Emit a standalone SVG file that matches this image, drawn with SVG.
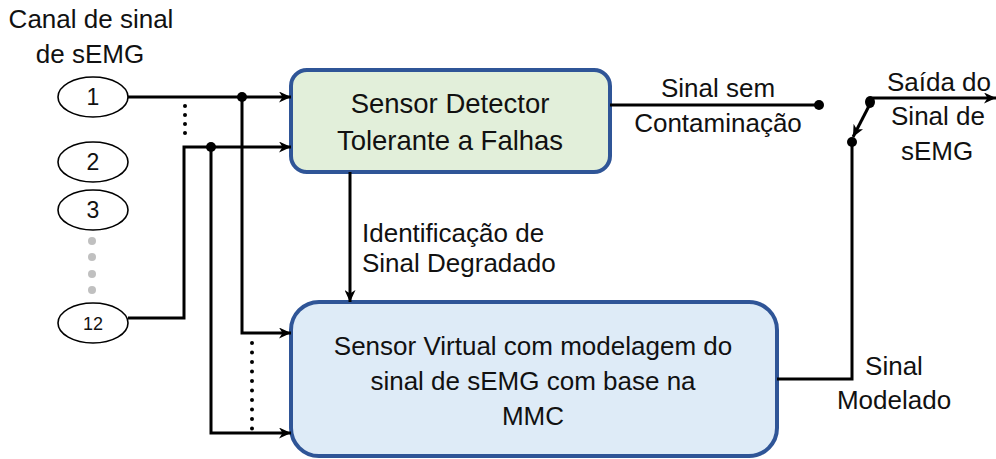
<svg xmlns="http://www.w3.org/2000/svg" width="996" height="459" viewBox="0 0 996 459">
  <style>
    text { font-family: "Liberation Sans", Arial, sans-serif; fill: #111; }
    .lbl { font-size: 26px; text-anchor: middle; }
    .lbl-l { font-size: 26px; }
    .num { font-size: 23px; text-anchor: middle; }
    .wire { fill: none; stroke: #000; stroke-width: 3; }
    .arr { marker-end: url(#head); }
    .dot { fill: #000; }
    .chan { fill: #fff; stroke: #000; stroke-width: 1.6; }
    .box { stroke: #2F5597; stroke-width: 4; }
  </style>
  <defs>
    <marker id="head" markerUnits="userSpaceOnUse" markerWidth="13" markerHeight="11" refX="12" refY="5.5" orient="auto">
      <path d="M0,0 L12,5.5 L0,11 L3.5,5.5 z" fill="#000"/>
    </marker>
  </defs>

  <!-- input caption -->
  <text class="lbl" x="91" y="28">Canal de sinal</text>
  <text class="lbl" x="90" y="63">de sEMG</text>

  <!-- channel nodes -->
  <g id="ch1"><ellipse class="chan" cx="93" cy="97" rx="35" ry="20"/><text class="num" x="93" y="105">1</text></g>
  <g id="ch2"><ellipse class="chan" cx="93" cy="162" rx="35" ry="20"/><text class="num" x="93" y="170">2</text></g>
  <g id="ch3"><ellipse class="chan" cx="93" cy="210" rx="35" ry="20"/><text class="num" x="93" y="218">3</text></g>
  <g id="ch-gap">
    <circle cx="92" cy="241" r="4" fill="#c0c0c0"/>
    <circle cx="92" cy="257" r="4" fill="#c0c0c0"/>
    <circle cx="92" cy="274" r="4" fill="#c0c0c0"/>
    <circle cx="92" cy="290" r="4" fill="#c0c0c0"/>
  </g>
  <g id="ch12"><ellipse class="chan" cx="93" cy="323" rx="35" ry="20"/><text class="num" x="93" y="330" style="font-size:18px">12</text></g>

  <!-- fault-tolerant detector -->
  <g id="detector">
    <rect class="box" x="291" y="70" width="319" height="102" rx="16" fill="#E2EFDA"/>
    <text class="lbl" x="450" y="113" style="font-size:27.5px">Sensor Detector</text>
    <text class="lbl" x="450" y="150" style="font-size:27.5px">Tolerante a Falhas</text>
  </g>

  <!-- virtual sensor -->
  <g id="virtual">
    <rect class="box" x="291" y="302" width="486" height="154" rx="28" fill="#DEEBF7"/>
    <text class="lbl" x="533" y="355">Sensor Virtual com modelagem do</text>
    <text class="lbl" x="533" y="390">sinal de sEMG com base na</text>
    <text class="lbl" x="533" y="425">MMC</text>
  </g>

  <!-- connectors -->
  <g id="connectors">
    <!-- channel 1 -->
    <path class="wire arr" d="M128,97 H291"/>
    <path class="wire arr" d="M242,97 V333 H291"/>
    <circle class="dot" cx="242" cy="97" r="5"/>
    <!-- channel 12 -->
    <path class="wire arr" d="M128,318 H184 V147 H291"/>
    <path class="wire arr" d="M211,147 V433 H291"/>
    <circle class="dot" cx="211" cy="147" r="5"/>
    <!-- elided channels -->
    <g class="dot">
      <circle cx="185" cy="106" r="2"/><circle cx="185" cy="115" r="2"/>
      <circle cx="185" cy="124" r="2"/><circle cx="185" cy="133" r="2"/>
    </g>
    <path d="M252,343 V430" fill="none" stroke="#000" stroke-width="4" stroke-linecap="round" stroke-dasharray="0 9.5"/>

    <!-- degraded-signal flag -->
    <path class="wire arr" d="M350,172 V302"/>
    <text class="lbl-l" x="362" y="242">Identificação de</text>
    <text class="lbl-l" x="362" y="272">Sinal Degradado</text>

    <!-- clean signal -->
    <path class="wire" d="M610,105 H819"/>
    <circle class="dot" cx="819" cy="105" r="5"/>
    <text class="lbl" x="718" y="97">Sinal sem</text>
    <text class="lbl" x="718" y="132">Contaminação</text>

    <!-- modelled signal -->
    <path class="wire" d="M777,379 H852 V142"/>
    <circle class="dot" cx="852" cy="142" r="5"/>
    <text class="lbl" x="894" y="375">Sinal</text>
    <text class="lbl" x="894" y="409">Modelado</text>

    <!-- output switch -->
    <path class="wire arr" d="M870,104 L853,137"/>
    <ellipse class="dot" cx="870" cy="102" rx="5" ry="6"/>
    <path class="wire arr" d="M870,98 H996"/>
    <text class="lbl" x="939" y="91">Saída do</text>
    <text class="lbl" x="938" y="125">Sinal de</text>
    <text class="lbl" x="937" y="160">sEMG</text>
  </g>
</svg>
